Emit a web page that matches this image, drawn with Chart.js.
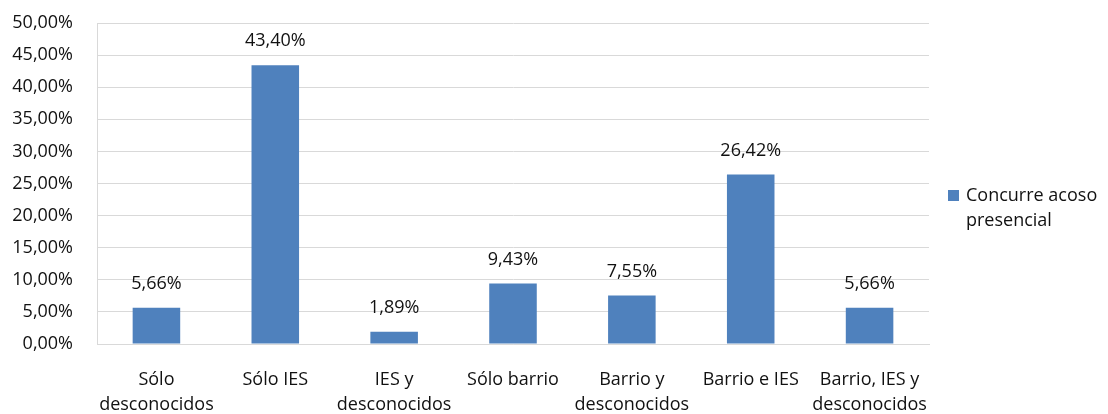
<!DOCTYPE html>
<html>
<head>
<meta charset="utf-8">
<script src="https://cdn.jsdelivr.net/npm/chart.js@4/dist/chart.umd.min.js"></script>
<style>
  html, body { margin: 0; padding: 0; background: #fff; }
  #wrap { width: 1108px; height: 414px; }
</style>
</head>
<body>
<div id="wrap"><canvas id="myChart" width="1108" height="414"></canvas></div>
<script>
// categories (multi-line labels as in the original)
var categories = [
    ["Sólo", "desconocidos"],
    "Sólo IES",
    ["IES y", "desconocidos"],
    "Sólo barrio",
    ["Barrio y", "desconocidos"],
    "Barrio e IES",
    ["Barrio, IES y", "desconocidos"]
];
var seriesName = ["Concurre acoso", "presencial"];
var seriesValues = [5.66, 43.40, 1.89, 9.43, 7.55, 26.42, 5.66];
var yTicks = [0, 5, 10, 15, 20, 25, 30, 35, 40, 45, 50];

var barColor = '#4f81bd';
var textColor = '#111111';
var fontFamily = "'Open Sans', sans-serif";

function pct(v) {
    return v.toFixed(2).replace('.', ',') + '%';
}

// value labels above each bar
var barLabels = {
    id: 'barLabels',
    afterDatasetsDraw: function(chart) {
        var ctx = chart.ctx;
        var meta = chart.getDatasetMeta(0);
        ctx.save();
        ctx.font = '18px ' + fontFamily;
        ctx.fillStyle = textColor;
        ctx.textAlign = 'center';
        ctx.textBaseline = 'middle';
        meta.data.forEach(function(bar, i) {
            ctx.fillText(pct(seriesValues[i]), bar.x, bar.y - 24);
        });
        ctx.restore();
    }
};

// legend drawn on the right, wrapped on two lines
var sideLegend = {
    id: 'sideLegend',
    afterDraw: function(chart) {
        var ctx = chart.ctx;
        var x = chart.chartArea.right + 19;
        var y = 196;
        ctx.save();
        ctx.fillStyle = barColor;
        ctx.fillRect(x, y - 6, 11, 11);
        ctx.font = '18px ' + fontFamily;
        ctx.fillStyle = textColor;
        ctx.textAlign = 'left';
        ctx.textBaseline = 'middle';
        seriesName.forEach(function(line, i) {
            ctx.fillText(line, x + 18, y + i * 25);
        });
        ctx.restore();
    }
};

var ctx = document.getElementById('myChart').getContext('2d');
var chart = new Chart(ctx, {
    type: 'bar',
    data: {
        labels: categories,
        datasets: [{
            label: seriesName.join(' '),
            backgroundColor: barColor,
            data: seriesValues,
            categoryPercentage: 0.8,
            barPercentage: 0.5
        }]
    },
    options: {
        responsive: false,
        animation: false,
        layout: { padding: { top: 23, right: 179, left: 0, bottom: 0 } },
        plugins: {
            legend: { display: false },
            tooltip: { enabled: false }
        },
        scales: {
            x: {
                grid: { display: false, drawTicks: false },
                border: { color: '#d9d9d9', width: 1 },
                ticks: {
                    color: textColor,
                    font: { family: fontFamily, size: 18, lineHeight: 1.39 },
                    padding: 23,
                    maxRotation: 0,
                    autoSkip: false
                },
                afterFit: function(scale) {
                    scale.height = 70;
                    scale.paddingLeft = 0;
                    scale.paddingRight = 0;
                }
            },
            y: {
                min: 0,
                max: 50,
                afterBuildTicks: function(scale) {
                    scale.ticks = yTicks.map(function(v) { return { value: v }; });
                },
                grid: { color: '#d9d9d9', drawTicks: false },
                border: { color: '#d9d9d9', width: 1 },
                ticks: {
                    color: textColor,
                    font: { family: fontFamily, size: 18 },
                    padding: 24,
                    callback: function(v) { return pct(v); }
                },
                afterFit: function(scale) {
                    scale.width = 97;
                    scale.paddingTop = 0;
                    scale.paddingBottom = 0;
                }
            }
        }
    },
    plugins: [barLabels, sideLegend]
});
</script>
</body>
</html>
